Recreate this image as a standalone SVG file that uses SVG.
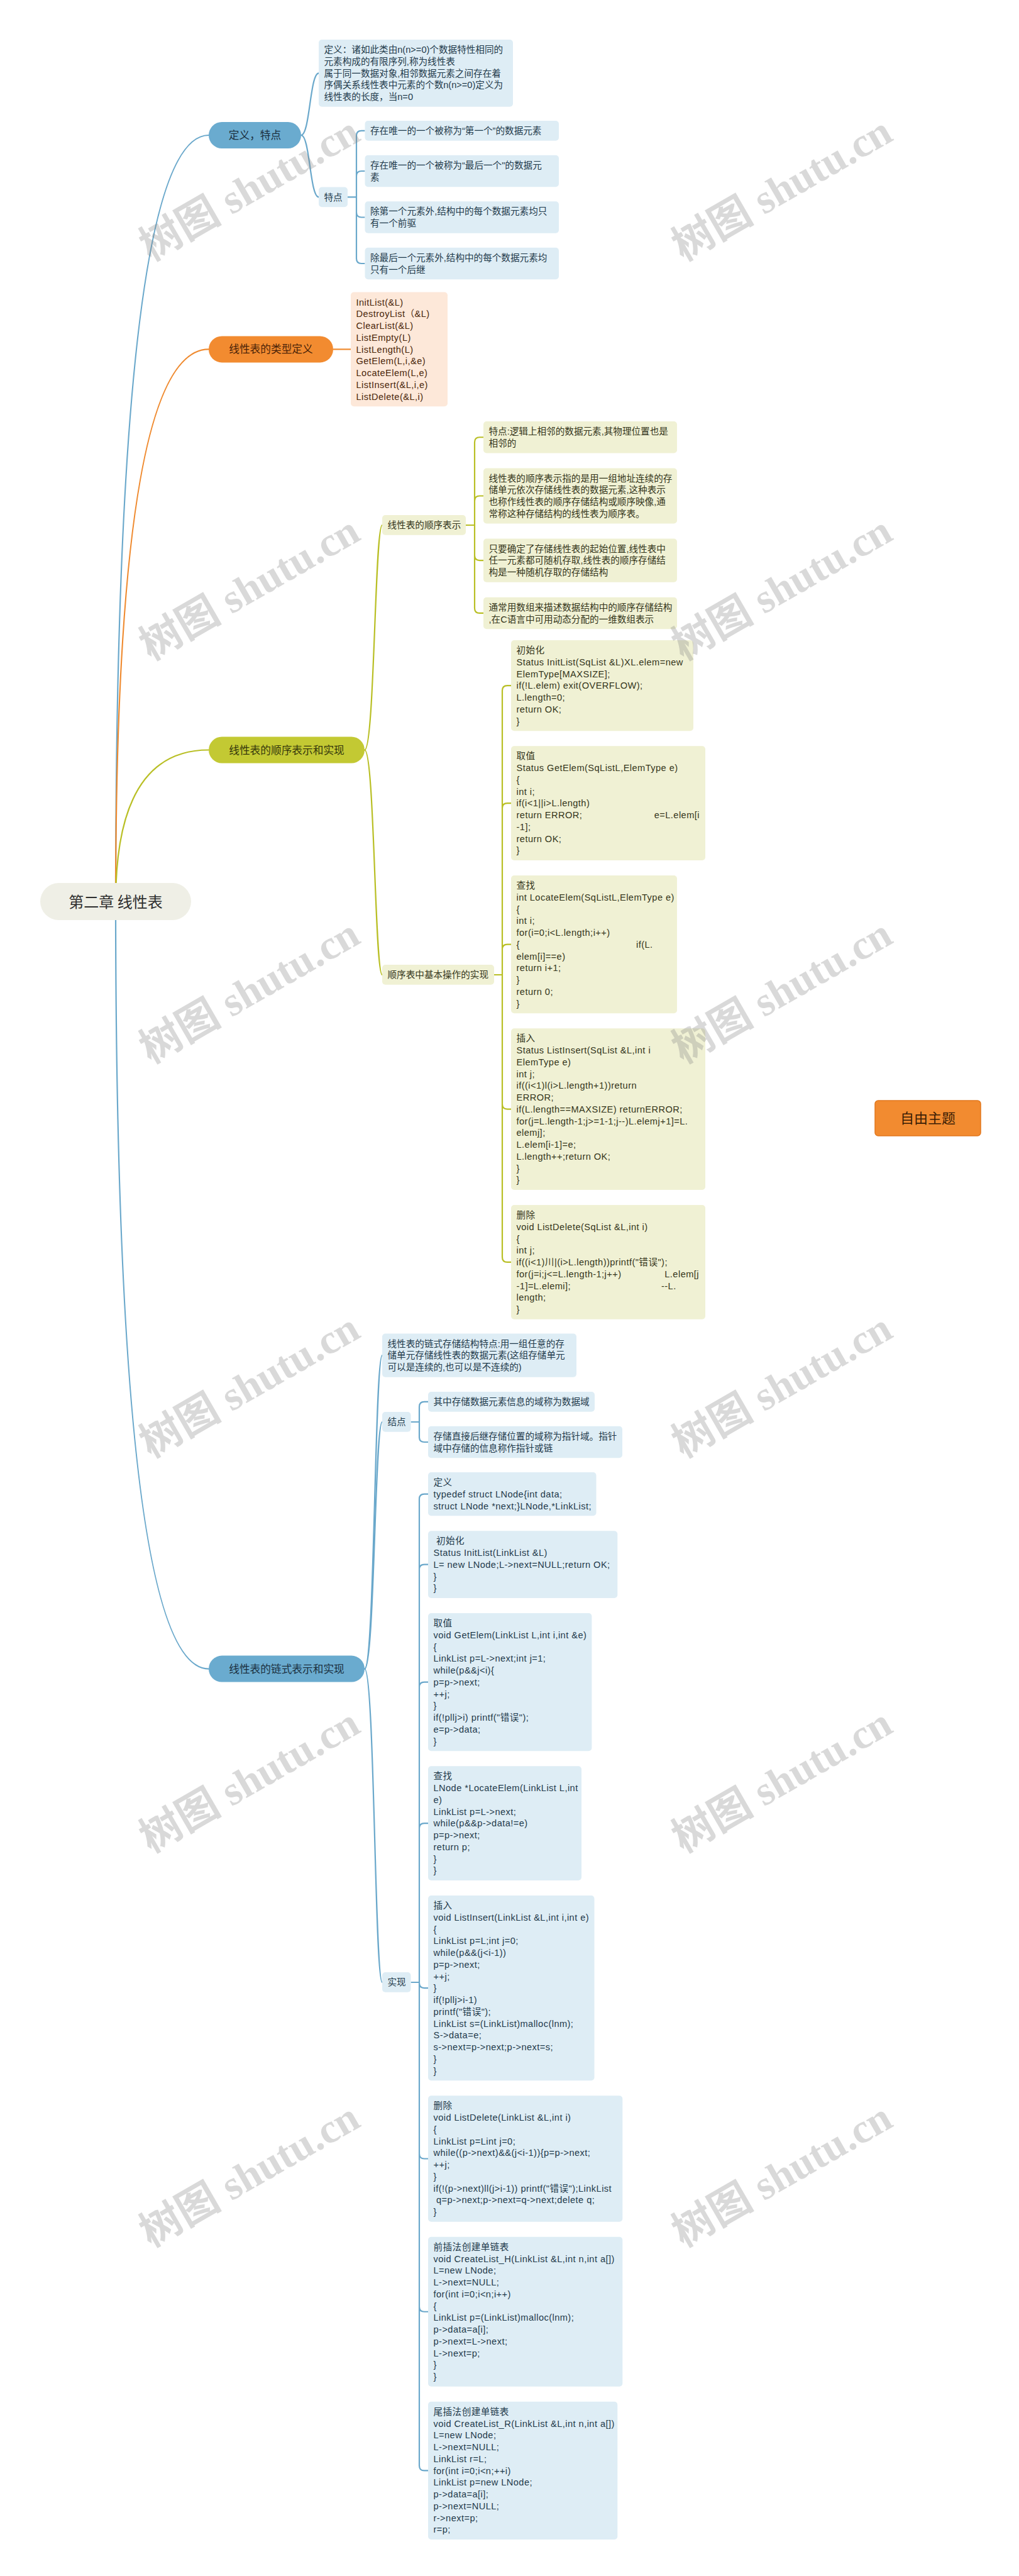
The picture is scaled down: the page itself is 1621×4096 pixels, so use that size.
<svg xmlns="http://www.w3.org/2000/svg" width="1621" height="4096" viewBox="0 0 1621 4096">
<defs>
<style>
.t{font-family:"Liberation Sans","Noto Sans CJK SC",sans-serif;font-size:14.6px}
.c{letter-spacing:0.45px}
.h{font-family:"Noto Sans CJK SC","Liberation Sans",sans-serif;font-size:16.7px}
.tb{fill:#1f3a4b}.ty{fill:#34351a}.to{fill:#4a2609}
.bb{fill:#deedf5}.by{fill:#f0f1d4}.bo{fill:#fde8d9}
.lb{fill:none;stroke:#6aa8cb;stroke-width:2.2}
.ly{fill:none;stroke:#b9bf25;stroke-width:2.2}
.lo{fill:none;stroke:#ef8a2f;stroke-width:2.2}
</style>
</defs>
<rect width="1621" height="4096" fill="#ffffff"/>
<g id="connectors">
<path class="lb" d="M184 1434 Q184 215 332 215"/>
<path class="lo" d="M184 1434 Q184 555.4 332 555.4"/>
<path class="ly" d="M184 1434 Q184 1192.5 332 1192.5"/>
<path class="lb" d="M184 1434 Q184 2653.6 332 2653.6"/>
<path class="lb" d="M479 215 C493 215 493 116.4 507 116.4"/>
<path class="lb" d="M479 215 C493 215 493 313.4 507 313.4"/>
<path class="lo" d="M530 555.4 L558 555.4"/>
<path class="ly" d="M580 1192.5 C596 1192.5 596 835 608 835"/>
<path class="ly" d="M580 1192.5 C596 1192.5 596 1550 608 1550"/>
<path class="lb" d="M580 2653.6 C596 2653.6 596 2155.1 608 2155.1"/>
<path class="lb" d="M580 2653.6 C596 2653.6 596 2261 608 2261"/>
<path class="lb" d="M580 2653.6 C596 2653.6 596 3152 608 3152"/>
<path class="lb" d="M553 313.4 H567 M567 313.4 V215.9 Q567 207.9 575 207.9 H580.5 M567 313.4 V280 Q567 272 575 272 H580.5 M567 313.4 V337.5 Q567 345.5 575 345.5 H580.5 M567 313.4 V411 Q567 419 575 419 H580.5"/>
<path class="ly" d="M741 835 H755 M755 835 V703.25 Q755 695.25 763 695.25 H769 M755 835 V796.5 Q755 788.5 763 788.5 H769 M755 835 V883.1 Q755 891.1 763 891.1 H769 M755 835 V966.9 Q755 974.9 763 974.9 H769"/>
<path class="ly" d="M786 1550 H799 M799 1550 V1098.1 Q799 1090.1 807 1090.1 H813 M799 1550 V1285.1 Q799 1277.1 807 1277.1 H813 M799 1550 V1509.6 Q799 1501.6 807 1501.6 H813 M799 1550 V1755.6 Q799 1763.6 807 1763.6 H813 M799 1550 V1998.9 Q799 2006.9 807 2006.9 H813"/>
<path class="lb" d="M653.5 2261 H667 M667 2261 V2236.9 Q667 2228.9 675 2228.9 H681 M667 2261 V2285 Q667 2293 675 2293 H681"/>
<path class="lb" d="M653.5 3152 H667 M667 3152 V2383.6 Q667 2375.6 675 2375.6 H681 M667 3152 V2495.6 Q667 2487.6 675 2487.6 H681 M667 3152 V2682.6 Q667 2674.6 675 2674.6 H681 M667 3152 V2907.1 Q667 2899.1 675 2899.1 H681 M667 3152 V3153.1 Q667 3161.1 675 3161.1 H681 M667 3152 V3424.5 Q667 3432.5 675 3432.5 H681 M667 3152 V3667.75 Q667 3675.75 675 3675.75 H681 M667 3152 V3920.4 Q667 3928.4 675 3928.4 H681"/>
</g>
<g id="root">
<rect x="64" y="1404" width="240" height="59" rx="29.5" fill="#efefe6"/>
<text x="184" y="1442.5" text-anchor="middle" font-family="Noto Sans CJK SC, sans-serif" font-size="24" fill="#2e2e2e">第二章 线性表</text>
</g>
<g id="b1">
<rect x="332" y="194" width="147" height="42" rx="21" fill="#6aabcf"/>
<text class="h" x="405.5" y="221" text-anchor="middle" fill="#1b3040">定义，特点</text>
</g>
<g id="b1-def">
<rect class="bb" x="507" y="63" width="309" height="106.75" rx="5"/>
<text class="t tb" x="515.5" y="84.2"><tspan x="515.5">定义：诸如此类由n(n&gt;=0)个数据特性相同的</tspan><tspan x="515.5" dy="18.75">元素构成的有限序列,称为线性表</tspan><tspan x="515.5" dy="18.75">属于同一数据对象,相邻数据元素之间存在着</tspan><tspan x="515.5" dy="18.75">序偶关系线性表中元素的个数n(n&gt;=0)定义为</tspan><tspan x="515.5" dy="18.75">线性表的长度，当n=0</tspan></text>
</g>
<g id="b1-feat">
<rect class="bb" x="507" y="297.5" width="46" height="31.75" rx="5"/>
<text class="t tb" x="515.5" y="318.7">特点</text>
</g>
<g id="b1-f1">
<rect class="bb" x="580.5" y="192" width="308.5" height="31.75" rx="5"/>
<text class="t tb" x="589" y="213.2">存在唯一的一个被称为“第一个”的数据元素</text>
</g>
<g id="b1-f2">
<rect class="bb" x="580.5" y="246.75" width="308.5" height="50.5" rx="5"/>
<text class="t tb" x="589" y="267.95"><tspan x="589">存在唯一的一个被称为“最后一个"的数据元</tspan><tspan x="589" dy="18.75">素</tspan></text>
</g>
<g id="b1-f3">
<rect class="bb" x="580.5" y="320.25" width="308.5" height="50.5" rx="5"/>
<text class="t tb" x="589" y="341.45"><tspan x="589">除第一个元素外,结构中的每个数据元素均只</tspan><tspan x="589" dy="18.75">有一个前驱</tspan></text>
</g>
<g id="b1-f4">
<rect class="bb" x="580.5" y="393.75" width="308.5" height="50.5" rx="5"/>
<text class="t tb" x="589" y="414.95"><tspan x="589">除最后一个元素外,结构中的每个数据元素均</tspan><tspan x="589" dy="18.75">只有一个后继</tspan></text>
</g>
<g id="b2">
<rect x="332" y="534.4" width="198" height="42" rx="21" fill="#f28b30"/>
<text class="h" x="431" y="561.4" text-anchor="middle" fill="#4a2308">线性表的类型定义</text>
</g>
<g id="b2-ops">
<rect class="bo" x="558" y="464.5" width="154" height="181.75" rx="5"/>
<text class="t to c" x="566.5" y="485.7"><tspan x="566.5">InitList(&amp;L)</tspan><tspan x="566.5" dy="18.75">DestroyList（&amp;L)</tspan><tspan x="566.5" dy="18.75">ClearList(&amp;L)</tspan><tspan x="566.5" dy="18.75">ListEmpty(L)</tspan><tspan x="566.5" dy="18.75">ListLength(L)</tspan><tspan x="566.5" dy="18.75">GetElem(L,i,&amp;e)</tspan><tspan x="566.5" dy="18.75">LocateElem(L,e)</tspan><tspan x="566.5" dy="18.75">ListInsert(&amp;L,i,e)</tspan><tspan x="566.5" dy="18.75">ListDelete(&amp;L,i)</tspan></text>
</g>
<g id="b3">
<rect x="332" y="1171.5" width="248" height="42" rx="21" fill="#c3c933"/>
<text class="h" x="456" y="1198.5" text-anchor="middle" fill="#35370c">线性表的顺序表示和实现</text>
</g>
<g id="b3-rep">
<rect class="by" x="608" y="819" width="133" height="31.75" rx="5"/>
<text class="t ty" x="616.5" y="840.2">线性表的顺序表示</text>
</g>
<g id="b3-n1">
<rect class="by" x="769" y="670" width="308" height="50.5" rx="5"/>
<text class="t ty" x="777.5" y="691.2"><tspan x="777.5">特点:逻辑上相邻的数据元素,其物理位置也是</tspan><tspan x="777.5" dy="18.75">相邻的</tspan></text>
</g>
<g id="b3-n2">
<rect class="by" x="769" y="744.5" width="308" height="88" rx="5"/>
<text class="t ty" x="777.5" y="765.7"><tspan x="777.5">线性表的顺序表示指的是用一组地址连续的存</tspan><tspan x="777.5" dy="18.75">储单元依次存储线性表的数据元素,这种表示</tspan><tspan x="777.5" dy="18.75">也称作线性表的顺序存储结构或顺序映像,通</tspan><tspan x="777.5" dy="18.75">常称这种存储结构的线性表为顺序表。</tspan></text>
</g>
<g id="b3-n3">
<rect class="by" x="769" y="856.5" width="308" height="69.25" rx="5"/>
<text class="t ty" x="777.5" y="877.7"><tspan x="777.5">只要确定了存储线性表的起始位置,线性表中</tspan><tspan x="777.5" dy="18.75">任一元素都可随机存取,线性表的顺序存储结</tspan><tspan x="777.5" dy="18.75">构是一种随机存取的存储结构</tspan></text>
</g>
<g id="b3-n4">
<rect class="by" x="769" y="949.75" width="308" height="50.5" rx="5"/>
<text class="t ty" x="777.5" y="970.95"><tspan x="777.5">通常用数组来描述数据结构中的顺序存储结构</tspan><tspan x="777.5" dy="18.75">,在C语言中可用动态分配的一维数组表示</tspan></text>
</g>
<g id="b3-ops">
<rect class="by" x="608" y="1534" width="178" height="31.75" rx="5"/>
<text class="t ty" x="616.5" y="1555.2">顺序表中基本操作的实现</text>
</g>
<g id="b3-init">
<rect class="by" x="813" y="1018" width="290" height="144.25" rx="5"/>
<text class="t ty c" x="821.5" y="1039.2"><tspan x="821.5">初始化</tspan><tspan x="821.5" dy="18.75">Status InitList(SqList &amp;L)XL.elem=new</tspan><tspan x="821.5" dy="18.75">ElemType[MAXSIZE];</tspan><tspan x="821.5" dy="18.75">if(!L.elem) exit(OVERFLOW);</tspan><tspan x="821.5" dy="18.75">L.length=0;</tspan><tspan x="821.5" dy="18.75">return OK;</tspan><tspan x="821.5" dy="18.75">}</tspan></text>
</g>
<g id="b3-get">
<rect class="by" x="813" y="1186.25" width="309" height="181.75" rx="5"/>
<text class="t ty c" x="821.5" y="1207.45"><tspan x="821.5">取值</tspan><tspan x="821.5" dy="18.75">Status GetElem(SqListL,ElemType e)</tspan><tspan x="821.5" dy="18.75">{</tspan><tspan x="821.5" dy="18.75">int i;</tspan><tspan x="821.5" dy="18.75">if(i&lt;1||i&gt;L.length)</tspan><tspan x="821.5" dy="18.75">return ERROR;</tspan><tspan x="1113" text-anchor="end">e=L.elem[i</tspan><tspan x="821.5" dy="18.75">-1];</tspan><tspan x="821.5" dy="18.75">return OK;</tspan><tspan x="821.5" dy="18.75">}</tspan></text>
</g>
<g id="b3-locate">
<rect class="by" x="813" y="1392" width="264" height="219.25" rx="5"/>
<text class="t ty c" x="821.5" y="1413.2"><tspan x="821.5">查找</tspan><tspan x="821.5" dy="18.75">int LocateElem(SqListL,ElemType e)</tspan><tspan x="821.5" dy="18.75">{</tspan><tspan x="821.5" dy="18.75">int i;</tspan><tspan x="821.5" dy="18.75">for(i=0;i&lt;L.length;i++)</tspan><tspan x="821.5" dy="18.75">{</tspan><tspan x="1012">if(L.</tspan><tspan x="821.5" dy="18.75">elem[i]==e)</tspan><tspan x="821.5" dy="18.75">return i+1;</tspan><tspan x="821.5" dy="18.75">}</tspan><tspan x="821.5" dy="18.75">return 0;</tspan><tspan x="821.5" dy="18.75">}</tspan></text>
</g>
<g id="b3-insert">
<rect class="by" x="813" y="1635.25" width="309" height="256.75" rx="5"/>
<text class="t ty c" x="821.5" y="1656.45"><tspan x="821.5">插入</tspan><tspan x="821.5" dy="18.75">Status ListInsert(SqList &amp;L,int i</tspan><tspan x="821.5" dy="18.75">ElemType e)</tspan><tspan x="821.5" dy="18.75">int j;</tspan><tspan x="821.5" dy="18.75">if((i&lt;1)l(i&gt;L.length+1))return</tspan><tspan x="821.5" dy="18.75">ERROR;</tspan><tspan x="821.5" dy="18.75">if(L.length==MAXSIZE) returnERROR;</tspan><tspan x="821.5" dy="18.75">for(j=L.length-1;j&gt;=1-1;j--)L.elemj+1]=L.</tspan><tspan x="821.5" dy="18.75">elemj];</tspan><tspan x="821.5" dy="18.75">L.elem[i-1]=e;</tspan><tspan x="821.5" dy="18.75">L.length++;return OK;</tspan><tspan x="821.5" dy="18.75">}</tspan><tspan x="821.5" dy="18.75">}</tspan></text>
</g>
<g id="b3-delete">
<rect class="by" x="813" y="1916" width="309" height="181.75" rx="5"/>
<text class="t ty c" x="821.5" y="1937.2"><tspan x="821.5">删除</tspan><tspan x="821.5" dy="18.75">void ListDelete(SqList &amp;L,int i)</tspan><tspan x="821.5" dy="18.75">{</tspan><tspan x="821.5" dy="18.75">int j;</tspan><tspan x="821.5" dy="18.75">if((i&lt;1)川|(i&gt;L.length))printf("错误");</tspan><tspan x="821.5" dy="18.75">for(j=i;j&lt;=L.length-1;j++)</tspan><tspan x="1112" text-anchor="end">L.elem[j</tspan><tspan x="821.5" dy="18.75">-1]=L.elemi];</tspan><tspan x="1052">--L.</tspan><tspan x="821.5" dy="18.75">length;</tspan><tspan x="821.5" dy="18.75">}</tspan></text>
</g>
<g id="b4">
<rect x="332" y="2632.6" width="248" height="42" rx="21" fill="#6aabcf"/>
<text class="h" x="456" y="2659.6" text-anchor="middle" fill="#1b3040">线性表的链式表示和实现</text>
</g>
<g id="b4-desc">
<rect class="bb" x="608" y="2120.5" width="309" height="69.25" rx="5"/>
<text class="t tb" x="616.5" y="2141.7"><tspan x="616.5">线性表的链式存储结构特点:用一组任意的存</tspan><tspan x="616.5" dy="18.75">储单元存储线性表的数据元素(这组存储单元</tspan><tspan x="616.5" dy="18.75">可以是连续的,也可以是不连续的)</tspan></text>
</g>
<g id="b4-node">
<rect class="bb" x="608" y="2245" width="45.5" height="31.75" rx="5"/>
<text class="t tb" x="616.5" y="2266.2">结点</text>
</g>
<g id="b4-node1">
<rect class="bb" x="681" y="2213" width="265" height="31.75" rx="5"/>
<text class="t tb" x="689.5" y="2234.2">其中存储数据元素信息的域称为数据域</text>
</g>
<g id="b4-node2">
<rect class="bb" x="681" y="2267.75" width="309" height="50.5" rx="5"/>
<text class="t tb" x="689.5" y="2288.95"><tspan x="689.5">存储直接后继存储位置的域称为指针域。指针</tspan><tspan x="689.5" dy="18.75">域中存储的信息称作指针或链</tspan></text>
</g>
<g id="b4-impl">
<rect class="bb" x="608" y="3136" width="45.5" height="31.75" rx="5"/>
<text class="t tb" x="616.5" y="3157.2">实现</text>
</g>
<g id="b4-def">
<rect class="bb" x="681" y="2341" width="267.5" height="69.25" rx="5"/>
<text class="t tb c" x="689.5" y="2362.2"><tspan x="689.5">定义</tspan><tspan x="689.5" dy="18.75">typedef struct LNode{int data;</tspan><tspan x="689.5" dy="18.75">struct LNode *next;}LNode,*LinkList;</tspan></text>
</g>
<g id="b4-init">
<rect class="bb" x="681" y="2434.25" width="301.3" height="106.75" rx="5"/>
<text class="t tb c" xml:space="preserve" x="689.5" y="2455.45"><tspan x="689.5"> 初始化</tspan><tspan x="689.5" dy="18.75">Status InitList(LinkList &amp;L)</tspan><tspan x="689.5" dy="18.75">L= new LNode;L-&gt;next=NULL;return OK;</tspan><tspan x="689.5" dy="18.75">}</tspan><tspan x="689.5" dy="18.75">}</tspan></text>
</g>
<g id="b4-get">
<rect class="bb" x="681" y="2565" width="260.4" height="219.25" rx="5"/>
<text class="t tb c" x="689.5" y="2586.2"><tspan x="689.5">取值</tspan><tspan x="689.5" dy="18.75">void GetElem(LinkList L,int i,int &amp;e)</tspan><tspan x="689.5" dy="18.75">{</tspan><tspan x="689.5" dy="18.75">LinkList p=L-&gt;next;int j=1;</tspan><tspan x="689.5" dy="18.75">while(p&amp;&amp;j&lt;i){</tspan><tspan x="689.5" dy="18.75">p=p-&gt;next;</tspan><tspan x="689.5" dy="18.75">++j;</tspan><tspan x="689.5" dy="18.75">}</tspan><tspan x="689.5" dy="18.75">if(!pllj&gt;i) printf("错误");</tspan><tspan x="689.5" dy="18.75">e=p-&gt;data;</tspan><tspan x="689.5" dy="18.75">}</tspan></text>
</g>
<g id="b4-locate">
<rect class="bb" x="681" y="2808.25" width="244" height="181.75" rx="5"/>
<text class="t tb c" x="689.5" y="2829.45"><tspan x="689.5">查找</tspan><tspan x="689.5" dy="18.75">LNode *LocateElem(LinkList L,int</tspan><tspan x="689.5" dy="18.75">e)</tspan><tspan x="689.5" dy="18.75">LinkList p=L-&gt;next;</tspan><tspan x="689.5" dy="18.75">while(p&amp;&amp;p-&gt;data!=e)</tspan><tspan x="689.5" dy="18.75">p=p-&gt;next;</tspan><tspan x="689.5" dy="18.75">return p;</tspan><tspan x="689.5" dy="18.75">}</tspan><tspan x="689.5" dy="18.75">}</tspan></text>
</g>
<g id="b4-insert">
<rect class="bb" x="681" y="3014" width="264.5" height="294.25" rx="5"/>
<text class="t tb c" x="689.5" y="3035.2"><tspan x="689.5">插入</tspan><tspan x="689.5" dy="18.75">void ListInsert(LinkList &amp;L,int i,int e)</tspan><tspan x="689.5" dy="18.75">{</tspan><tspan x="689.5" dy="18.75">LinkList p=L;int j=0;</tspan><tspan x="689.5" dy="18.75">while(p&amp;&amp;(j&lt;i-1))</tspan><tspan x="689.5" dy="18.75">p=p-&gt;next;</tspan><tspan x="689.5" dy="18.75">++j;</tspan><tspan x="689.5" dy="18.75">}</tspan><tspan x="689.5" dy="18.75">if(!pllj&gt;i-1)</tspan><tspan x="689.5" dy="18.75">printf("错误");</tspan><tspan x="689.5" dy="18.75">LinkList s=(LinkList)malloc(lnm);</tspan><tspan x="689.5" dy="18.75">S-&gt;data=e;</tspan><tspan x="689.5" dy="18.75">s-&gt;next=p-&gt;next;p-&gt;next=s;</tspan><tspan x="689.5" dy="18.75">}</tspan><tspan x="689.5" dy="18.75">}</tspan></text>
</g>
<g id="b4-delete">
<rect class="bb" x="681" y="3332.25" width="309.3" height="200.5" rx="5"/>
<text class="t tb c" xml:space="preserve" x="689.5" y="3353.45"><tspan x="689.5">删除</tspan><tspan x="689.5" dy="18.75">void ListDelete(LinkList &amp;L,int i)</tspan><tspan x="689.5" dy="18.75">{</tspan><tspan x="689.5" dy="18.75">LinkList p=Lint j=0;</tspan><tspan x="689.5" dy="18.75">while((p-&gt;next)&amp;&amp;(j&lt;i-1)){p=p-&gt;next;</tspan><tspan x="689.5" dy="18.75">++j;</tspan><tspan x="689.5" dy="18.75">}</tspan><tspan x="689.5" dy="18.75">if(!(p-&gt;next)ll(j&gt;i-1)) printf("错误");LinkList</tspan><tspan x="689.5" dy="18.75"> q=p-&gt;next;p-&gt;next=q-&gt;next;delete q;</tspan><tspan x="689.5" dy="18.75">}</tspan></text>
</g>
<g id="b4-headins">
<rect class="bb" x="681" y="3556.75" width="309.3" height="238" rx="5"/>
<text class="t tb c" x="689.5" y="3577.95"><tspan x="689.5">前插法创建单链表</tspan><tspan x="689.5" dy="18.75">void CreateList_H(LinkList &amp;L,int n,int a[])</tspan><tspan x="689.5" dy="18.75">L=new LNode;</tspan><tspan x="689.5" dy="18.75">L-&gt;next=NULL;</tspan><tspan x="689.5" dy="18.75">for(int i=0;i&lt;n;i++)</tspan><tspan x="689.5" dy="18.75">{</tspan><tspan x="689.5" dy="18.75">LinkList p=(LinkList)malloc(lnm);</tspan><tspan x="689.5" dy="18.75">p-&gt;data=a[i];</tspan><tspan x="689.5" dy="18.75">p-&gt;next=L-&gt;next;</tspan><tspan x="689.5" dy="18.75">L-&gt;next=p;</tspan><tspan x="689.5" dy="18.75">}</tspan><tspan x="689.5" dy="18.75">}</tspan></text>
</g>
<g id="b4-tailins">
<rect class="bb" x="681" y="3818.75" width="301.3" height="219.25" rx="5"/>
<text class="t tb c" x="689.5" y="3839.95"><tspan x="689.5">尾插法创建单链表</tspan><tspan x="689.5" dy="18.75">void CreateList_R(LinkList &amp;L,int n,int a[])</tspan><tspan x="689.5" dy="18.75">L=new LNode;</tspan><tspan x="689.5" dy="18.75">L-&gt;next=NULL;</tspan><tspan x="689.5" dy="18.75">LinkList r=L;</tspan><tspan x="689.5" dy="18.75">for(int i=0;i&lt;n;++i)</tspan><tspan x="689.5" dy="18.75">LinkList p=new LNode;</tspan><tspan x="689.5" dy="18.75">p-&gt;data=a[i];</tspan><tspan x="689.5" dy="18.75">p-&gt;next=NULL;</tspan><tspan x="689.5" dy="18.75">r-&gt;next=p;</tspan><tspan x="689.5" dy="18.75">r=p;</tspan></text>
</g>
<g id="free-topic">
<rect x="1392" y="1750" width="168" height="56" rx="5" fill="#f28b30" stroke="#e2771c" stroke-width="1.5"/>
<text x="1476" y="1786" text-anchor="middle" font-family="Noto Sans CJK SC, sans-serif" font-size="22" fill="#3a1d05">自由主题</text>
</g>
<g id="watermark" fill="#808080" fill-opacity="0.3" font-family="Liberation Serif, Noto Sans CJK SC, serif" font-weight="bold" font-size="66" text-anchor="middle">
<text transform="translate(408 319) rotate(-30)">树图 shutu.cn</text>
<text transform="translate(1255 319) rotate(-30)">树图 shutu.cn</text>
<text transform="translate(408 954) rotate(-30)">树图 shutu.cn</text>
<text transform="translate(1255 954) rotate(-30)">树图 shutu.cn</text>
<text transform="translate(408 1595) rotate(-30)">树图 shutu.cn</text>
<text transform="translate(1255 1595) rotate(-30)">树图 shutu.cn</text>
<text transform="translate(408 2222) rotate(-30)">树图 shutu.cn</text>
<text transform="translate(1255 2222) rotate(-30)">树图 shutu.cn</text>
<text transform="translate(408 2850) rotate(-30)">树图 shutu.cn</text>
<text transform="translate(1255 2850) rotate(-30)">树图 shutu.cn</text>
<text transform="translate(408 3477) rotate(-30)">树图 shutu.cn</text>
<text transform="translate(1255 3477) rotate(-30)">树图 shutu.cn</text>
</g>
</svg>
